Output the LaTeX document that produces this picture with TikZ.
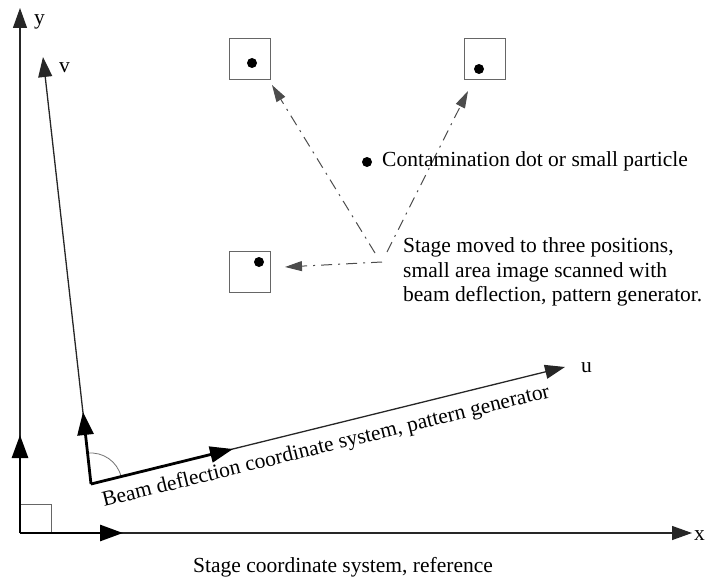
\documentclass[tikz,border=0pt]{standalone}
\usepackage{fontspec}
\setmainfont{Liberation Serif}
\usetikzlibrary{arrows.meta}
\begin{document}
\begin{tikzpicture}[x=1pt,y=-1pt,
  lbl/.style={font=\fontsize{21.5}{24.5}\selectfont, inner sep=0pt},
  axis/.style={line width=1.3pt, draw=black!85, -{Triangle[length=20pt,width=14pt]}},
  unitvec/.style={line width=2.8pt, -{Triangle[length=23pt,width=16pt]}},
  move/.style={line width=1pt, draw=black!70, dash pattern=on 11pt off 6pt on 2pt off 6pt,
               -{Triangle[length=17pt,width=10pt]}},
  field/.style={draw=black!60, line width=1pt, minimum size=41pt, inner sep=0pt},
  speck/.style={circle, fill=black, minimum size=10pt, inner sep=0pt}]
\useasboundingbox (0,0) rectangle (705,578);

% stage coordinate system
\coordinate (O) at (20,533);
\coordinate (X) at (692,533);
\coordinate (Y) at (20,8);
\coordinate (Xu) at (123,533);
\coordinate (Yu) at (20,435);
\draw[axis] (O) -- (X);
\draw[axis] (O) -- (Y);
\draw[draw=black!60, line width=0.8pt] (O) rectangle (51,504);
\draw[unitvec] (O) -- (Xu);
\draw[unitvec] (O) -- (Yu);
\node[lbl, anchor=base west] (xl) at (694,540) {x};
\node[lbl, anchor=base west] (yl) at (34,25) {y};

% beam deflection coordinate system
\coordinate (B) at (91,484);
\coordinate (U) at (565,367);
\coordinate (V) at (43,57);
\coordinate (Uu) at (233,449);
\coordinate (Vu) at (83,412);
\draw[black!55, line width=0.8pt] ([shift={(13.9:31pt)}]B) arc[start angle=13.9, end angle=96.4, radius=31pt];
\draw[axis] (B) -- (U);
\draw[axis] (B) -- (V);
\draw[unitvec] (B) -- (Uu);
\draw[unitvec] (B) -- (Vu);
\node[lbl, anchor=base west] (ul) at (581,372) {u};
\node[lbl, anchor=base west] (vl) at (59,73) {v};
\node[lbl, anchor=base west, rotate=13.8] (beamlbl) at (104,507)
  {Beam deflection coordinate system, pattern generator};

% scanned fields with the particle
\node[field] (sq1) at (249.5,59.5) {};
\node[field] (sq2) at (484.5,59.5) {};
\node[field] (sq3) at (249.5,272) {};
\node[speck] (d1) at (252,63) {};
\node[speck] (d2) at (479,69) {};
\node[speck] (d3) at (259,262) {};

% stage moves
\coordinate (m1) at (375,253);
\coordinate (m2) at (387,252);
\coordinate (m3) at (382,262);
\coordinate (t1) at (272,85);
\coordinate (t2) at (468,91);
\coordinate (t3) at (285,267);
\draw[move] (m1) -- (t1);
\draw[move] (m2) -- (t2);
\draw[move] (m3) -- (t3);

% legend and notes
\node[speck] (dl) at (367,162) {};
\node[lbl, anchor=base west] (dltxt) at (382,167) {Contamination dot or small particle};
\node[lbl, anchor=north west, align=left] (note) at (403,237.5)
  {Stage moved to three positions,\\small area image scanned with\\beam deflection, pattern generator.};
\node[lbl, anchor=base west] (stagelbl) at (193,572) {Stage coordinate system, reference};
\end{tikzpicture}
\end{document}
